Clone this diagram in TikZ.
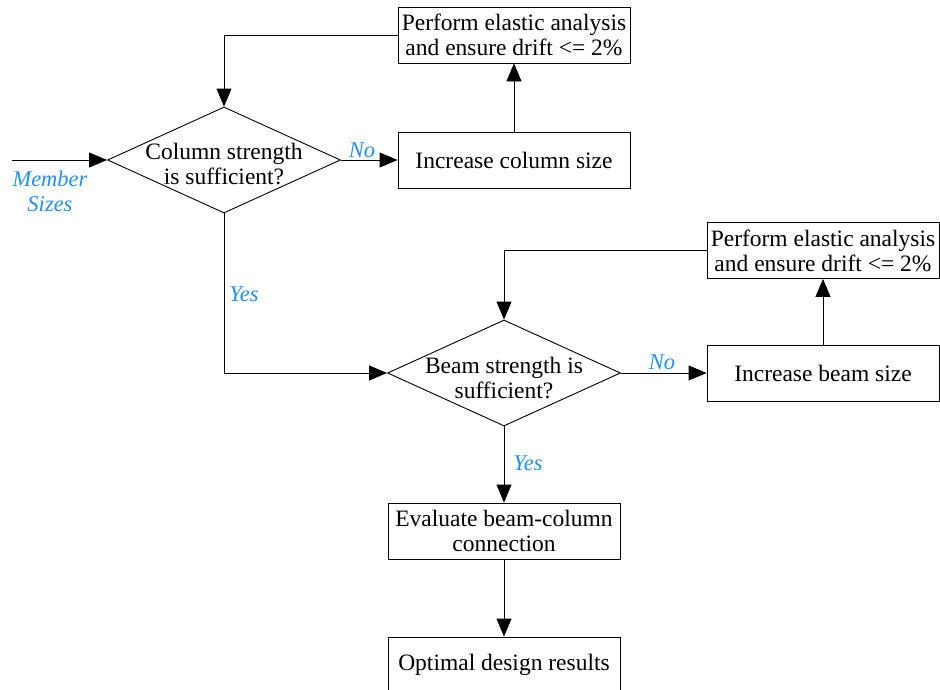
\documentclass[tikz,border=0pt]{standalone}
\usepackage{fontspec}
\setmainfont{Liberation Serif}
\usetikzlibrary{shapes.geometric,arrows.meta}
\definecolor{lblblue}{RGB}{30,144,255}
\begin{document}
\begin{tikzpicture}[x=1pt,y=-1pt,
  every node/.style={font=\fontsize{23.5}{25}\selectfont},
  box/.style={draw,line width=0.9pt,minimum width=232pt,minimum height=56pt,inner sep=0pt,align=center},
  decision/.style={draw,line width=0.9pt,diamond,inner sep=0pt,minimum width=233pt,minimum height=106pt},
  txt/.style={align=center,inner sep=0pt},
  lbl/.style={text=lblblue,font=\fontsize{22.5}{25}\selectfont\itshape,align=center,inner sep=0pt},
  arr/.style={draw,line width=0.9pt,-{Triangle[length=18pt,width=15pt]}}]
\useasboundingbox (0,0) rectangle (940,689);

% column check loop
\node[decision] (d1) at (224,160) {};
\node[txt] (d1t) at (224,164) {Column strength\\is sufficient?};
\node[box] (icol) at (514,160) {Increase column size};
\node[box] (pcol) at (514,35) {Perform elastic analysis\\and ensure drift <= 2\%};

% beam check loop
\node[decision] (d2) at (504,373) {};
\node[txt] (d2t) at (504,378) {Beam strength is\\sufficient?};
\node[box] (ibeam) at (823,373) {Increase beam size};
\node[box] (pbeam) at (823,250.5) {Perform elastic analysis\\and ensure drift <= 2\%};

% final steps
\node[box] (eval) at (504,531) {Evaluate beam-column\\connection};
\node[box] (opt) at (504,665) {Optimal design results};

% input
\coordinate (in) at (12,160);
\node[lbl] (ms) at (50,191) {Member\\Sizes};

% branch labels
\node[lbl] (no1) at (362,150) {No};
\node[lbl] (yes1) at (244,294) {Yes};
\node[lbl] (no2) at (662,362) {No};
\node[lbl] (yes2) at (528,463) {Yes};

% connectors
\draw[arr] (in) -- (d1.west);
\draw[arr] (d1.east) -- (icol.west);
\draw[arr] (icol.north) -- (pcol.south);
\draw[arr] (pcol.west) -| (d1.north);
\draw[arr] (d1.south) |- (d2.west);
\draw[arr] (d2.east) -- (ibeam.west);
\draw[arr] (ibeam.north) -- (pbeam.south);
\draw[arr] (pbeam.west) -| (d2.north);
\draw[arr] (d2.south) -- (eval.north);
\draw[arr] (eval.south) -- (opt.north);
\end{tikzpicture}
\end{document}
